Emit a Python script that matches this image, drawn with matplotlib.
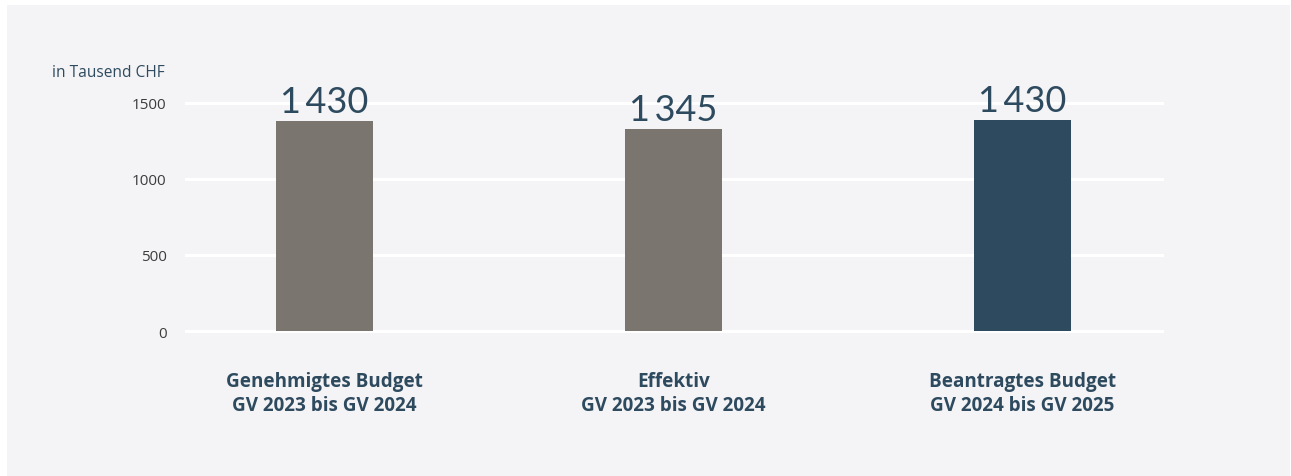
import numpy as np
import matplotlib.pyplot as plt
from matplotlib.patches import Rectangle

# data
categories = ["Genehmigtes Budget\nGV 2023 bis GV 2024",
              "Effektiv\nGV 2023 bis GV 2024",
              "Beantragtes Budget\nGV 2024 bis GV 2025"]
bar_values = [1382, 1327, 1388]          # bar heights as drawn
value_labels = ["1\u2009430", "1\u2009345", "1\u2009430"]  # printed numbers
yticks = [0, 500, 1000, 1500]

grey = "#7a756e"
navy = "#2e4a5f"
colors = [grey, grey, navy]

plt.rcParams['font.family'] = ['Open Sans', 'DejaVu Sans']

W, H = 1291, 477
fig = plt.figure(figsize=(W / 100, H / 100), dpi=100)
fig.patch.set_facecolor("white")

# light panel behind everything
fig.patches.append(Rectangle((7 / W, 0), (1290 - 7) / W, 1 - 6 / H,
                             transform=fig.transFigure, facecolor="#f4f4f6",
                             edgecolor="none", zorder=-10))

ax = fig.add_axes([186 / W, 1 - 332 / H, (1162 - 186) / W, (332 - 103.7) / H])
ax.set_facecolor("none")

x = np.arange(len(categories))
ax.bar(x, bar_values, width=0.278, color=colors, zorder=3)

ax.set_xlim(-0.397, 2.4)
ax.set_ylim(0, 1500)
ax.set_yticks(yticks)
ax.set_yticklabels([str(t) for t in yticks])
ax.set_xticks([])
for s in ax.spines.values():
    s.set_visible(False)
ax.tick_params(axis="y", length=0, pad=14, labelsize=11, labelcolor="#3c3c3c")
for t in yticks:
    ax.axhline(t, color="white", lw=2.2, zorder=1, clip_on=False)

for xi, v, lab in zip(x, bar_values, value_labels):
    ax.annotate(lab, (xi, v), xytext=(0, 2), textcoords="offset points",
                ha="center", va="bottom", fontsize=26, color=navy,
                family=['Lato', 'DejaVu Sans'], annotation_clip=False)

for xi, cat in zip(x, categories):
    ax.annotate(cat, (xi, 0), xytext=(0, -29), textcoords="offset points",
                ha="center", va="top", fontsize=13.6, fontweight="bold",
                color=navy, linespacing=1.22, annotation_clip=False)

fig.text(52 / W, 1 - 73 / H, "in Tausend CHF", ha="left", va="center",
         fontsize=11.2, color=navy)

fig.savefig("out.png", dpi=100)
